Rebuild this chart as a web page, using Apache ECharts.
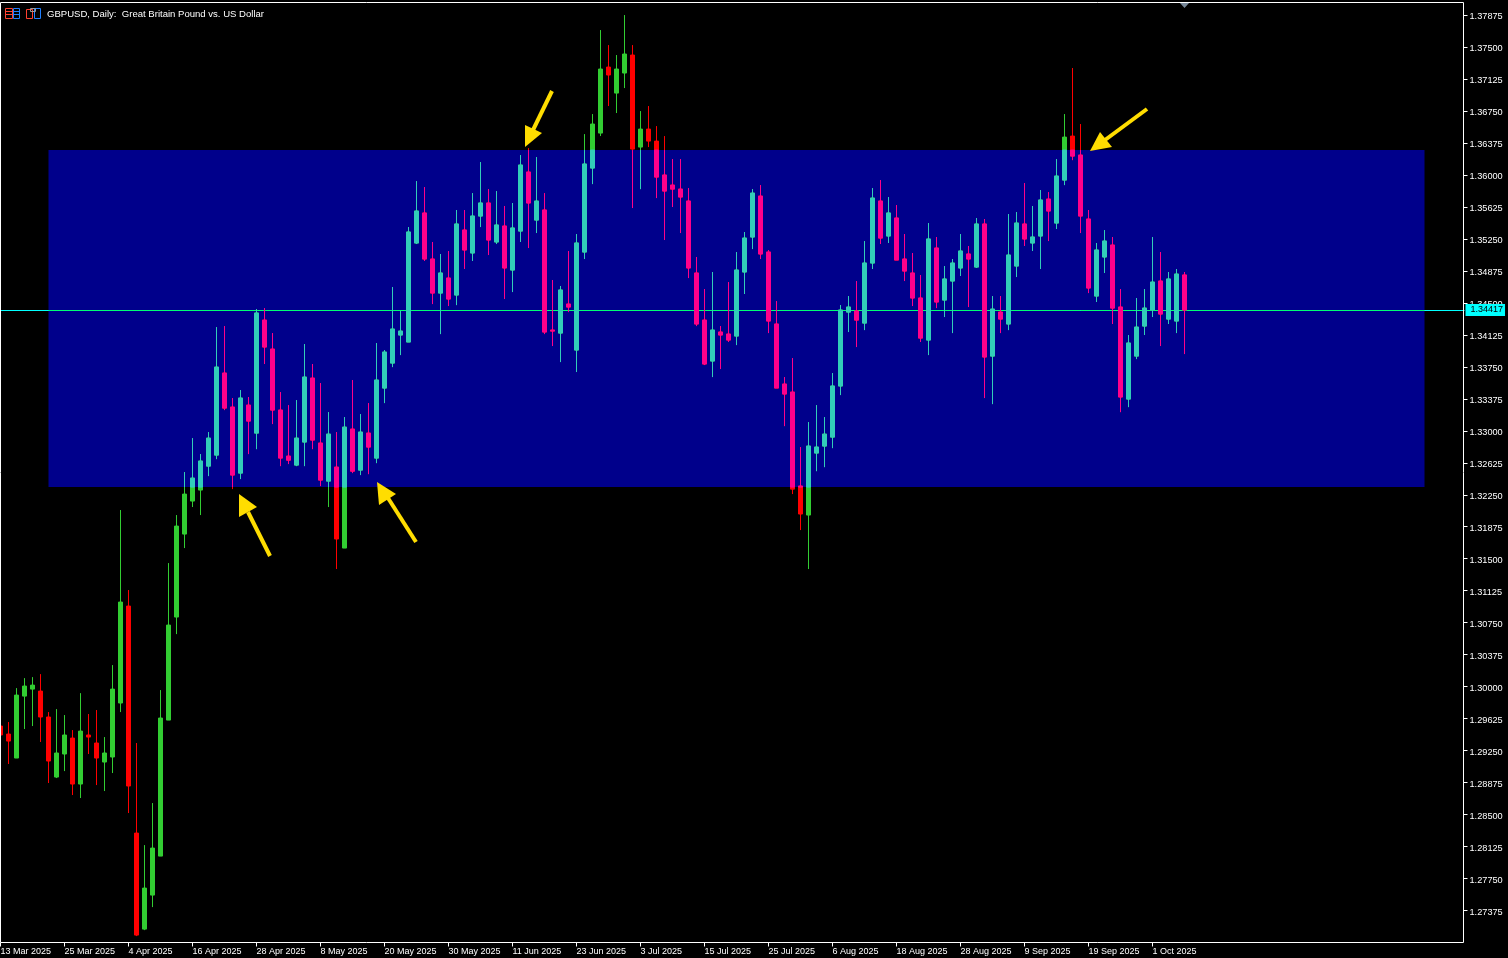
<!DOCTYPE html>
<html><head><meta charset="utf-8">
<style>html,body{margin:0;padding:0;background:#000;overflow:hidden}#c{width:1508px;height:958px}</style>
<script src="https://cdn.jsdelivr.net/npm/echarts@6/dist/echarts.min.js"></script>
</head><body><div id="c"></div>
<script>
const monthDays = [
 ['Mar',[13,14,17,18,19,20,21,24,25,26,27,28,31]],
 ['Apr',[1,2,3,4,7,8,9,10,11,14,15,16,17,18,21,22,23,24,25,28,29,30]],
 ['May',[1,2,5,6,7,8,9,12,13,14,15,16,19,20,21,22,23,26,27,28,29,30]],
 ['Jun',[2,3,4,5,6,9,10,11,12,13,16,17,18,19,20,23,24,25,26,27,30]],
 ['Jul',[1,2,3,4,7,8,9,10,11,14,15,16,17,18,21,22,23,24,25,28,29,30,31]],
 ['Aug',[1,4,5,6,7,8,11,12,13,14,15,18,19,20,21,22,25,26,27,28,29]],
 ['Sep',[1,2,3,4,5,8,9,10,11,12,15,16,17,18,19,22,23,24,25,26,29,30]],
 ['Oct',[1,2,3,6,7]]
];
const opens = [1.29538,1.29444,1.29163,1.29889,1.29971,1.29948,1.29644,1.28940,1.29210,1.29397,1.28858,1.29433,1.29339,1.29116,1.29175,1.29808,1.30945,1.28283,1.27157,1.27556,1.28013,1.29608,1.30816,1.31789,1.32176,1.32305,1.32586,1.32715,1.33677,1.33278,1.32504,1.33301,1.32973,1.34298,1.33958,1.33243,1.32703,1.32598,1.32868,1.33618,1.32856,1.32410,1.32574,1.31625,1.33020,1.32539,1.32973,1.32680,1.33501,1.33794,1.34123,1.34041,1.35202,1.35554,1.35014,1.34615,1.34791,1.34592,1.35354,1.35085,1.35518,1.35671,1.35214,1.35401,1.34885,1.35342,1.36034,1.35471,1.35589,1.34181,1.34146,1.34486,1.33947,1.35096,1.36081,1.36491,1.37265,1.36960,1.37195,1.37406,1.36327,1.36538,1.36397,1.35999,1.35881,1.35834,1.35694,1.34850,1.34298,1.33818,1.34158,1.34134,1.34111,1.34862,1.35272,1.35752,1.35096,1.34252,1.33548,1.33454,1.32352,1.32012,1.32739,1.32821,1.32926,1.33525,1.34392,1.34404,1.34263,1.34967,1.35694,1.35284,1.35495,1.35014,1.34850,1.34557,1.34064,1.35143,1.34533,1.34756,1.34909,1.35073,1.34920,1.35425,1.33876,1.34392,1.34252,1.34932,1.35425,1.35202,1.35284,1.35717,1.35436,1.35940,1.36456,1.36233,1.35483,1.34580,1.35038,1.35178,1.34451,1.33372,1.33876,1.34228,1.34416,1.34756,1.34310,1.34287,1.34827];
const highs = [1.29585,1.29585,1.29983,1.30100,1.30112,1.30147,1.29702,1.29737,1.29667,1.29491,1.29924,1.29679,1.29726,1.29409,1.30253,1.32071,1.31133,1.29339,1.28142,1.28635,1.29960,1.31449,1.32012,1.32516,1.32914,1.32727,1.32985,1.34216,1.34228,1.33384,1.33478,1.33396,1.34427,1.34439,1.34146,1.33454,1.33301,1.33360,1.34017,1.33783,1.33560,1.33219,1.32985,1.33161,1.33595,1.33196,1.33325,1.34029,1.33947,1.34686,1.34404,1.35389,1.35928,1.35858,1.35214,1.35073,1.35108,1.35589,1.35589,1.35787,1.36151,1.35834,1.35811,1.35636,1.35671,1.36233,1.36315,1.36210,1.35787,1.34768,1.34698,1.35108,1.35307,1.36479,1.36714,1.37699,1.37523,1.37406,1.37875,1.37523,1.36749,1.36808,1.36573,1.36456,1.36186,1.36186,1.35846,1.35038,1.34662,1.34862,1.34228,1.34744,1.35096,1.35331,1.35834,1.35881,1.35120,1.34521,1.33630,1.33853,1.32809,1.33102,1.33301,1.33161,1.33677,1.34474,1.34580,1.34756,1.35225,1.35846,1.35940,1.35741,1.35647,1.35307,1.35085,1.34827,1.35436,1.35272,1.34932,1.35014,1.35307,1.35167,1.35495,1.35483,1.34580,1.34580,1.35542,1.35565,1.35905,1.35636,1.35823,1.35799,1.36186,1.36714,1.37254,1.36597,1.35589,1.35202,1.35354,1.35272,1.34662,1.34123,1.34557,1.34662,1.35272,1.35096,1.34862,1.34897,1.34862];
const lows = [1.29362,1.29093,1.29163,1.29503,1.29538,1.29351,1.28870,1.28928,1.29010,1.28729,1.28694,1.29210,1.28846,1.28776,1.28987,1.29702,1.28518,1.27075,1.27145,1.27415,1.28013,1.29608,1.30616,1.31625,1.32106,1.32012,1.32469,1.32668,1.33243,1.32316,1.32434,1.32727,1.32785,1.33783,1.33079,1.32586,1.32610,1.32586,1.32586,1.32785,1.32352,1.32106,1.31379,1.31625,1.32504,1.32481,1.32492,1.32621,1.33325,1.33747,1.33888,1.34041,1.35190,1.34991,1.34486,1.34134,1.34463,1.34474,1.34897,1.34991,1.35389,1.35061,1.35190,1.34545,1.34627,1.35214,1.35143,1.35319,1.34134,1.33994,1.33806,1.34392,1.33689,1.35014,1.35893,1.36456,1.36808,1.36726,1.37019,1.35612,1.35834,1.36327,1.35729,1.35237,1.35624,1.35319,1.34791,1.34228,1.33771,1.33630,1.33724,1.34041,1.34005,1.34604,1.35131,1.35014,1.34146,1.33501,1.33055,1.32258,1.31836,1.31379,1.32527,1.32574,1.32797,1.33419,1.34158,1.33982,1.34181,1.34897,1.35190,1.35202,1.35002,1.34756,1.34463,1.34041,1.33888,1.34439,1.34334,1.34146,1.34815,1.34451,1.34909,1.33384,1.33313,1.34146,1.34181,1.34803,1.35167,1.35108,1.34897,1.35225,1.35366,1.35881,1.36174,1.35319,1.34615,1.34510,1.34850,1.34252,1.33219,1.33278,1.33841,1.34123,1.34334,1.33994,1.34252,1.34146,1.33900];
const closes = [1.29433,1.29362,1.29901,1.30007,1.30018,1.29644,1.29128,1.29222,1.29433,1.28858,1.29479,1.29409,1.29163,1.29222,1.29971,1.30992,1.28835,1.27087,1.27638,1.28107,1.29632,1.30722,1.31883,1.32258,1.32445,1.32645,1.32914,1.33747,1.33266,1.32481,1.33384,1.33114,1.34381,1.33982,1.33243,1.32680,1.32656,1.32914,1.33630,1.32891,1.32422,1.32961,1.31731,1.33043,1.32527,1.32985,1.32809,1.33595,1.33923,1.34193,1.34169,1.35331,1.35577,1.35014,1.34615,1.34850,1.34545,1.35425,1.35120,1.35518,1.35671,1.35237,1.35413,1.34909,1.35378,1.36116,1.35671,1.35694,1.34158,1.34169,1.34651,1.34451,1.35202,1.36128,1.36597,1.37242,1.37172,1.37242,1.37418,1.36303,1.36538,1.36397,1.35975,1.35811,1.35834,1.35741,1.34909,1.34252,1.33783,1.34181,1.34123,1.34064,1.34885,1.35260,1.35787,1.35073,1.34287,1.33501,1.33431,1.32316,1.32024,1.32821,1.32809,1.32961,1.33525,1.34416,1.34451,1.34298,1.34967,1.35729,1.35260,1.35554,1.35002,1.34873,1.34557,1.34087,1.35249,1.34510,1.34780,1.34967,1.35108,1.35014,1.35425,1.33865,1.34427,1.34310,1.35061,1.35436,1.35249,1.35272,1.35706,1.35577,1.35987,1.36444,1.36221,1.35518,1.34674,1.35120,1.35225,1.34439,1.33396,1.34029,1.34216,1.34439,1.34744,1.34369,1.34780,1.34838,1.34417];
const yTicks = [1.37875,1.375,1.37125,1.3675,1.36375,1.36,1.35625,1.3525,1.34875,1.345,1.34125,1.3375,1.33375,1.33,1.32625,1.3225,1.31875,1.315,1.31125,1.3075,1.30375,1.3,1.29625,1.2925,1.28875,1.285,1.28125,1.2775,1.27375];
const bandTop = 1.36292, bandBottom = 1.3234;
const bandFirst = 6, bandLast = 178;
const lastPrice = 1.34417;
const title = 'GBPUSD, Daily:  Great Britain Pound vs. US Dollar';
const futureSlots = 35;

const dates = monthDays.flatMap(([m, ds]) => ds.map(d => d + ' ' + m + ' 2025'));
const categories = dates.concat(Array.from({length: futureSlots}, () => ''));
const ohlc = opens.map((o, i) => [o, closes[i], lows[i], highs[i]]);
const tickAt = i => i % 8 === 0 && i < dates.length;
const font = 'Liberation Sans';

// The part of each candle that lies inside the zone takes the zone's inverted colours.
const clampBand = v => Math.min(bandTop, Math.max(bandBottom, v));
const empty = ['-','-','-','-'];
const inBandBodies = ohlc.map(([o,c,l,h]) => {
  const bodyHi = Math.max(o,c), bodyLo = Math.min(o,c);
  return (bodyHi < bandBottom || bodyLo > bandTop) ? empty : [clampBand(o),clampBand(c),clampBand(l),clampBand(h)];
});
const inBandWicks = ohlc.map(([o,c,l,h]) => {
  const bodyHi = Math.max(o,c), bodyLo = Math.min(o,c);
  const bodyOutside = bodyHi < bandBottom || bodyLo > bandTop;
  const wickIn = h >= bandBottom && l <= bandTop;
  if (!bodyOutside || !wickIn) return empty;
  const e = bodyLo > bandTop ? bandTop : bandBottom;
  const sign = o < c ? 1e-6 : -1e-6;
  return [e - sign/2, e + sign/2, clampBand(l), clampBand(h)];
});

const arrows = [
 {head:[[239,494],[239,517],[257,507]], tail:[[248,512],[270,556]]},
 {head:[[377,482],[379,505],[396,494]], tail:[[388,498],[416,542]]},
 {head:[[525,147],[525,125],[542,133]], tail:[[533,130],[552,91]]},
 {head:[[1090,151],[1100,132],[1112,147]], tail:[[1105,140],[1147,109]]}
];
const arrowColor = '#FFDD00';
const graphics = [];
arrows.forEach(a => {
  graphics.push({type:'polygon', silent:true, z:50, shape:{points:a.head}, style:{fill:arrowColor}});
  graphics.push({type:'line', silent:true, z:50, shape:{x1:a.tail[0][0],y1:a.tail[0][1],x2:a.tail[1][0],y2:a.tail[1][1]}, style:{stroke:arrowColor,lineWidth:4}});
});
graphics.push({type:'rect', silent:true, z:100, shape:{x:0.5,y:2.5,width:1463,height:940}, style:{fill:'none',stroke:'#fff',lineWidth:1}});
graphics.push({type:'polygon', silent:true, z:101, shape:{points:[[1180,3],[1189,3],[1184.5,8]]}, style:{fill:'#778899'}});
graphics.push({type:'text', silent:true, z:101, x:47, y:9, style:{text:title, fill:'#fff', font:'9.55px "'+font+'"'}});
const iconR='#FF4030', iconB='#2080FF';
const rect=(x,y,w,h,c)=>({type:'rect',silent:true,z:101,shape:{x:x+.5,y:y+.5,width:w,height:h},style:{fill:'none',stroke:c,lineWidth:1}});
const hl=(x1,x2,y,c)=>({type:'line',silent:true,z:101,shape:{x1:x1,y1:y+.5,x2:x2,y2:y+.5},style:{stroke:c,lineWidth:1}});
graphics.push(rect(5,8,7,10,iconR),rect(13,8,6,10,iconB),hl(6,12,11,iconR),hl(6,12,14,iconR),hl(13,19,11,iconB),hl(13,19,14,iconB));
graphics.push(rect(26,9,6,9,iconR),rect(34,8,6,10,iconB),rect(30,8,5,3,'#999'));

const inBandStyle = {color:'#32CDB9', color0:'#FF008B', borderColor:'#32CDB9', borderColor0:'#FF008B', borderWidth:1};
const chart = echarts.init(document.getElementById('c'));
chart.setOption({
  animation:false, backgroundColor:'#000',
  grid:{left:0.5, top:2, width:1464, height:940.5, show:false, containLabel:false, outerBoundsMode:'none'},
  xAxis:{type:'category', data:categories, boundaryGap:false,
     axisLine:{show:false},
     axisTick:{show:true, length:4, interval:i=>tickAt(i), lineStyle:{color:'#fff',width:1}},
     axisLabel:{show:true, interval:i=>tickAt(i), align:'left', margin:5, color:'#fff', fontFamily:font, fontSize:9, hideOverlap:false},
     splitLine:{show:false}},
  yAxis:{type:'value', position:'right', offset:-1, min:1.27, max:1.38028, scale:true,
     axisLine:{show:false},
     axisTick:{show:true, length:4, customValues:yTicks, lineStyle:{color:'#fff',width:1}},
     axisLabel:{show:true, customValues:yTicks, margin:6, color:'#fff', fontFamily:font, fontSize:9.2, align:'left',
       formatter:v=>'{p|'+v.toFixed(5)+'}',
       rich:{p:{color:'#fff', fontFamily:font, fontSize:9.2, padding:[3,0,0,0]}}},
     splitLine:{show:false}},
  series:[
    {type:'candlestick', name:'GBPUSD', z:5, barWidth:4, silent:true, data:ohlc,
     itemStyle:{color:'#32CD32', color0:'#FF0000', borderColor:'#32CD32', borderColor0:'#FF0000', borderWidth:1},
     markArea:{silent:true, z:1, itemStyle:{color:'#00008B'}, label:{show:false},
       data:[[{coord:[bandFirst,bandTop]},{coord:[bandLast,bandBottom]}]]},
     markLine:{silent:true, z:2, symbol:'none', precision:5,
       lineStyle:{color:'#00FFFF',width:1,type:'solid'},
       label:{show:true, position:'end', distance:1, formatter:lastPrice.toFixed(5), color:'#000', backgroundColor:'#00FFFF', fontFamily:font, fontSize:9, padding:[2,2,1,5]},
       data:[{yAxis:lastPrice}]}},
    {type:'candlestick', name:'GBPUSD in zone', z:6, barWidth:4, silent:true, data:inBandBodies, itemStyle:inBandStyle,
     markLine:{silent:true, z:3, symbol:'none', precision:5,
       lineStyle:{color:'#00FF74',width:1,type:'solid'}, label:{show:false},
       data:[[{coord:[bandFirst,lastPrice]},{coord:[bandLast,lastPrice]}]]}},
    {type:'candlestick', name:'GBPUSD wicks in zone', z:6, barWidth:1, silent:true, data:inBandWicks, itemStyle:inBandStyle}
  ],
  graphic:graphics
});
</script></body></html>
